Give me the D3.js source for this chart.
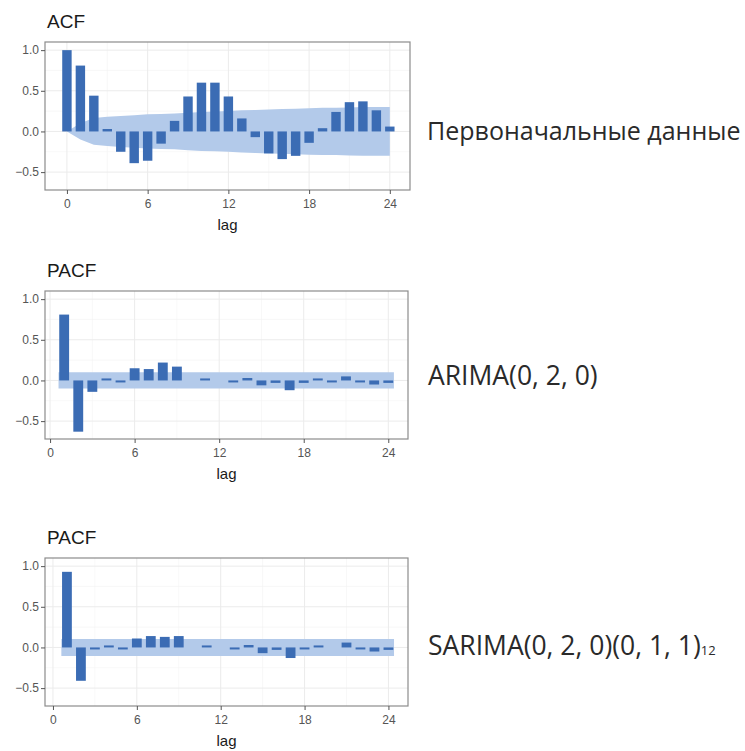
<!DOCTYPE html>
<html>
<head>
<meta charset="utf-8">
<script src="https://cdn.jsdelivr.net/npm/d3@7"></script>
<style>
  body { margin:0; background:#fff; }
  .tick text { font-family:"Liberation Sans", Arial, sans-serif; font-size:12px; fill:#555; }
  .tick line { stroke:#555; }
  .domain { display:none; }
  .side_text { font-family:"Open Sans", "Noto Sans", sans-serif; fill:#2a2a2a; }
</style>
</head>
<body>
<svg></svg>
<script>
// board size
var svg_w = 745, svg_h = 751;

// ACF of the raw series, lags 0..24
var acf_lags = d3.range(0, 25);
var acf_vals = [1.00, 0.81, 0.44, 0.03, -0.25, -0.39, -0.36, -0.15, 0.13, 0.43, 0.60, 0.60, 0.43,
                0.16, -0.07, -0.27, -0.34, -0.30, -0.14, 0.04, 0.24, 0.36, 0.37, 0.26, 0.06];
// Bartlett band (half width)
var acf_band = [0.00, 0.10, 0.165, 0.18, 0.19, 0.20, 0.21, 0.215, 0.22, 0.23, 0.24, 0.245, 0.25,
                0.26, 0.265, 0.27, 0.275, 0.28, 0.285, 0.29, 0.29, 0.295, 0.30, 0.30, 0.30];

// PACF of ARIMA(0,2,0) residuals, lags 1..24
var pacf_lags = d3.range(1, 25);
var pacf1_vals = [0.81, -0.63, -0.14, 0.02, -0.01, 0.15, 0.14, 0.22, 0.17, 0.00, 0.02, 0.00,
                  -0.02, 0.03, -0.06, -0.03, -0.12, -0.03, 0.01, -0.01, 0.05, -0.02, -0.05, -0.03];
var pacf1_band = 0.10;

// PACF of SARIMA(0,2,0)(0,1,1)12 residuals, lags 1..24
var pacf2_vals = [0.93, -0.41, -0.01, 0.02, -0.01, 0.11, 0.14, 0.13, 0.14, 0.00, 0.02, 0.00,
                  -0.01, 0.03, -0.07, -0.03, -0.13, -0.02, 0.01, 0.00, 0.06, -0.01, -0.05, -0.03];
var pacf2_band = 0.105;

// axis ticks
var x_ticks = [0, 6, 12, 18, 24];
var x_minor = [3, 9, 15, 21];
var y_ticks = [1.0, 0.5, 0.0, -0.5];
var y_minor = [0.75, 0.25, -0.25];

var bar_color = "#3b6cb4", band_color = "#b3caea";

var svg = d3.select("svg").attr("width", svg_w).attr("height", svg_h);

// one panel: box, grid, band, bars, axes, labels
function draw_panel(cfg){
  var g = svg.append("g");
  var x_scale = d3.scaleLinear().domain(cfg.x_dom).range([cfg.left, cfg.right]);
  var y_scale = d3.scaleLinear().domain([-0.72, 1.1]).range([cfg.bottom, cfg.top]);

  // grid
  g.selectAll(".vminor").data(x_minor).enter().append("line")
    .attr("x1", x_scale).attr("x2", x_scale).attr("y1", cfg.top).attr("y2", cfg.bottom)
    .attr("stroke", "#f4f4f4").attr("stroke-width", 0.6);
  g.selectAll(".hminor").data(y_minor).enter().append("line")
    .attr("y1", y_scale).attr("y2", y_scale).attr("x1", cfg.left).attr("x2", cfg.right)
    .attr("stroke", "#f4f4f4").attr("stroke-width", 0.6);
  g.selectAll(".vmajor").data(x_ticks).enter().append("line")
    .attr("x1", x_scale).attr("x2", x_scale).attr("y1", cfg.top).attr("y2", cfg.bottom)
    .attr("stroke", "#ebebeb").attr("stroke-width", 1);
  g.selectAll(".hmajor").data(y_ticks).enter().append("line")
    .attr("y1", y_scale).attr("y2", y_scale).attr("x1", cfg.left).attr("x2", cfg.right)
    .attr("stroke", "#ebebeb").attr("stroke-width", 1);

  // confidence band
  var area = d3.area()
    .x(function(d){ return x_scale(d.lag); })
    .y0(function(d){ return y_scale(-d.b); })
    .y1(function(d){ return y_scale(d.b); });
  g.append("path").datum(cfg.band).attr("d", area).attr("fill", band_color);

  // bars (tiny nonzero values still get a visible dash)
  var bw = (x_scale(1) - x_scale(0)) * 0.7;
  function bar_h(v){
    var h = Math.abs(y_scale(v) - y_scale(0));
    return v === 0 ? 0 : Math.max(2, h);
  }
  g.selectAll(".bar").data(cfg.lags).enter().append("rect")
    .attr("x", function(d){ return x_scale(d) - bw/2; })
    .attr("width", bw)
    .attr("y", function(d, i){
      var v = cfg.vals[i];
      return v >= 0 ? y_scale(0) - bar_h(v) : y_scale(0);
    })
    .attr("height", function(d, i){ return bar_h(cfg.vals[i]); })
    .attr("fill", bar_color);

  // panel border
  g.append("rect").attr("x", cfg.left).attr("y", cfg.top)
    .attr("width", cfg.right - cfg.left).attr("height", cfg.bottom - cfg.top)
    .attr("fill", "none").attr("stroke", "#8c8c8c").attr("stroke-width", 1.2);

  // axes
  g.append("g").attr("transform", "translate(0," + cfg.bottom + ")")
    .call(d3.axisBottom(x_scale).tickValues(x_ticks).tickSize(4).tickPadding(5));
  g.append("g").attr("transform", "translate(" + cfg.left + ",0)")
    .call(d3.axisLeft(y_scale).tickValues(y_ticks).tickSize(4).tickPadding(2)
      .tickFormat(d3.format(".1f")));

  // titles
  g.append("text").attr("x", cfg.left + 2).attr("y", cfg.top - 14).text(cfg.title)
    .attr("font-family", "Liberation Sans, Arial, sans-serif").attr("font-size", 19).attr("fill", "#1a1a1a");
  g.append("text").attr("x", (cfg.left + cfg.right) / 2).attr("y", cfg.bottom + 40).text("lag")
    .attr("text-anchor", "middle")
    .attr("font-family", "Liberation Sans, Arial, sans-serif").attr("font-size", 15).attr("fill", "#1a1a1a");
  return g;
}

draw_panel({
  title: "ACF", left: 45, right: 410, top: 42, bottom: 190, x_dom: [-1.63, 25.5],
  lags: acf_lags, vals: acf_vals,
  band: acf_lags.map(function(d, i){ return {lag: d, b: acf_band[i]}; })
});
draw_panel({
  title: "PACF", left: 45, right: 408, top: 291, bottom: 439, x_dom: [-0.36, 25.4],
  lags: pacf_lags, vals: pacf1_vals,
  band: [{lag: 0.6, b: pacf1_band}, {lag: 24.4, b: pacf1_band}]
});
draw_panel({
  title: "PACF", left: 45, right: 408, top: 558, bottom: 706, x_dom: [-0.57, 25.4],
  lags: pacf_lags, vals: pacf2_vals,
  band: [{lag: 0.6, b: pacf2_band}, {lag: 24.4, b: pacf2_band}]
});

// model labels on the right
svg.append("text").attr("class", "side_text").attr("x", 427).attr("y", 140)
  .attr("font-size", 25).text("Первоначальные данные");
svg.append("text").attr("class", "side_text").attr("x", 428).attr("y", 385)
  .attr("font-size", 26.5).text("ARIMA(0, 2, 0)");
var sar = svg.append("text").attr("class", "side_text").attr("x", 428).attr("y", 655)
  .attr("font-size", 26.5);
sar.append("tspan").text("SARIMA(0, 2, 0)(0, 1, 1)");
sar.append("tspan").attr("font-size", 13).text("12");
</script>
</body>
</html>
